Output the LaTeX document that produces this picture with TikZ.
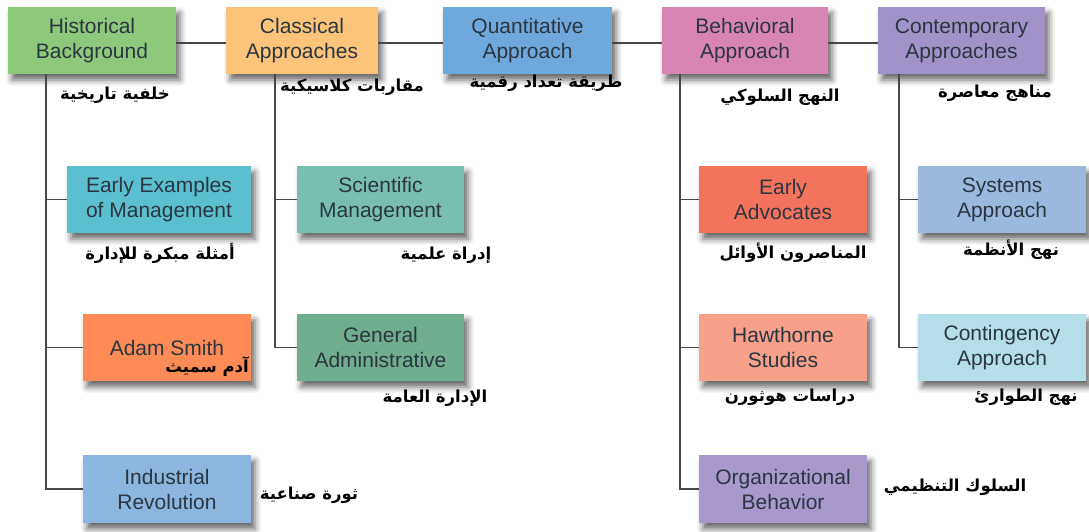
\documentclass[tikz,border=0pt]{standalone}
\usepackage{fontspec}
\setmainfont{Liberation Sans}
\newfontfamily\arabicfont[Script=Arabic]{DejaVu Sans}
\TeXXeTstate=1
\usetikzlibrary{shadows.blur}
\definecolor{boxtext}{HTML}{2B3640}
\definecolor{linegray}{HTML}{474747}
\definecolor{histgreen}{HTML}{8DC97A}
\definecolor{classorange}{HTML}{FBC47A}
\definecolor{quantblue}{HTML}{6FA8DC}
\definecolor{behavpink}{HTML}{D985B4}
\definecolor{contpurple}{HTML}{A193C9}
\definecolor{earlycyan}{HTML}{5BBFD0}
\definecolor{adamorange}{HTML}{FC8B58}
\definecolor{indusblue}{HTML}{8AB6E0}
\definecolor{scientteal}{HTML}{79BFB0}
\definecolor{generalteal}{HTML}{6FAE8E}
\definecolor{advocred}{HTML}{F4735C}
\definecolor{hawthsalmon}{HTML}{F7A08A}
\definecolor{orglav}{HTML}{A898CC}
\definecolor{systblue}{HTML}{9BB8DE}
\definecolor{contingcyan}{HTML}{B5DFE8}
\newcommand{\artext}[1]{{\arabicfont\bfseries\beginR #1\endR}}
\begin{document}
\begin{tikzpicture}[x=1pt,y=-1pt,
    box/.style={rectangle,fill=#1,minimum height=67pt,minimum width=168pt,inner sep=0pt,
        align=center,text=boxtext,font=\fontsize{21}{25}\selectfont,
        blur shadow={shadow xshift=4pt,shadow yshift=-6pt,shadow blur radius=6pt,shadow opacity=60}},
    link/.style={draw=linegray,line width=1.5pt},
    arlabel/.style={inner sep=0pt,font=\fontsize{16.5}{20}\selectfont}]
    \useasboundingbox (0,0) rectangle (1089,532);

    \node[box=histgreen] (hist) at (92,40.5) {Historical\\Background};
    \node[box=classorange,minimum width=152pt] (class) at (302,40.5) {Classical\\Approaches};
    \node[box=quantblue,minimum width=169pt] (quant) at (527.5,40.5) {Quantitative\\Approach};
    \node[box=behavpink,minimum width=166pt] (behav) at (745,40.5) {Behavioral\\Approach};
    \node[box=contpurple,minimum width=167pt] (contemp) at (961.5,40.5) {Contemporary\\Approaches};

    \node[box=earlycyan,minimum width=184pt] (early) at (159,199.5) {Early Examples\\of Management};
    \node[box=adamorange] (adam) at (167,347.5) {Adam Smith};
    \node[box=indusblue,minimum height=68pt] (indus) at (167,489) {Industrial\\Revolution};

    \node[box=scientteal,minimum width=167pt] (scient) at (380.5,199.5) {Scientific\\Management};
    \node[box=generalteal,minimum width=167pt] (general) at (380.5,347.5) {General\\Administrative};

    \node[box=advocred] (advoc) at (783,199.5) {Early\\Advocates};
    \node[box=hawthsalmon] (hawth) at (783,347.5) {Hawthorne\\Studies};
    \node[box=orglav,minimum height=68pt] (orgbeh) at (783,489) {Organizational\\Behavior};

    \node[box=systblue] (systems) at (1002,199.5) {Systems\\Approach};
    \node[box=contingcyan] (conting) at (1002,347.5) {Contingency\\Approach};

    \draw[link] ([yshift=-2.5pt]hist.east) -- ([yshift=-2.5pt]class.west);
    \draw[link] ([yshift=-2.5pt]class.east) -- ([yshift=-2.5pt]quant.west);
    \draw[link] ([yshift=-2.5pt]quant.east) -- ([yshift=-2.5pt]behav.west);
    \draw[link] ([yshift=-2.5pt]behav.east) -- ([yshift=-2.5pt]contemp.west);

    \coordinate (histtrunk) at ([xshift=38pt]hist.south west);
    \coordinate (classtrunk) at ([xshift=49pt]class.south west);
    \coordinate (behavtrunk) at ([xshift=18pt]behav.south west);
    \coordinate (conttrunk) at ([xshift=21pt]contemp.south west);

    \draw[link] (histtrunk) |- (indus.west);
    \draw[link] (histtrunk) |- (early.west);
    \draw[link] (histtrunk) |- (adam.west);
    \draw[link] (classtrunk) |- (general.west);
    \draw[link] (classtrunk) |- (scient.west);
    \draw[link] (behavtrunk) |- (orgbeh.west);
    \draw[link] (behavtrunk) |- (advoc.west);
    \draw[link] (behavtrunk) |- (hawth.west);
    \draw[link] (conttrunk) |- (conting.west);
    \draw[link] (conttrunk) |- (systems.west);

    \node[arlabel] (histar) at (115,95) {\artext{خلفية تاريخية}};
    \node[arlabel] (classar) at (352,87) {\artext{مقاربات كلاسيكية}};
    \node[arlabel] (quantar) at (546,83) {\artext{طريقة تعداد رقمية}};
    \node[arlabel] (behavar) at (780,97) {\artext{النهج السلوكي}};
    \node[arlabel] (contar) at (995,93) {\artext{مناهج معاصرة}};
    \node[arlabel] (earlyar) at (160,253) {\artext{أمثلة مبكرة للإدارة}};
    \node[arlabel,anchor=east] (adamar) at (249,367) {\artext{آدم سميث}};
    \node[arlabel] (indusar) at (309,495) {\artext{ثورة صناعية}};
    \node[arlabel] (scientar) at (446,255) {\artext{إدراة علمية}};
    \node[arlabel] (generalar) at (435,398) {\artext{الإدارة العامة}};
    \node[arlabel] (advocar) at (793,253) {\artext{المناصرون الأوائل}};
    \node[arlabel] (hawthar) at (790,397) {\artext{دراسات هوثورن}};
    \node[arlabel] (orgbehar) at (955,487) {\artext{السلوك التنظيمي}};
    \node[arlabel] (systemsar) at (1011,250) {\artext{نهج الأنظمة}};
    \node[arlabel] (contingar) at (1026,397) {\artext{نهج الطوارئ}};
\end{tikzpicture}
\end{document}
